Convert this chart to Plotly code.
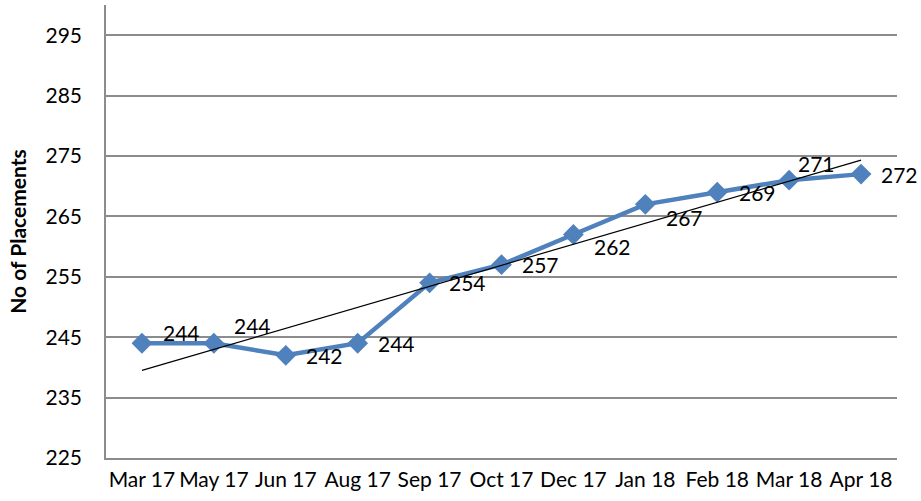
import numpy as np
import plotly.graph_objects as go

months = ["Mar 17", "May 17", "Jun 17", "Aug 17", "Sep 17", "Oct 17",
          "Dec 17", "Jan 18", "Feb 18", "Mar 18", "Apr 18"]
placements = [244, 244, 242, 244, 254, 257, 262, 267, 269, 271, 272]
y_ticks = [225, 235, 245, 255, 265, 275, 285, 295]

# label offsets in pixels (dx, dy up)
label_dx = [40, 39, 39, 39, 38, 39, 39, 39, 40, 27, 38]
label_dy = [11, 18, 0, 0, 0, 0, -12, -13, 0, 17, 0]

FONT = "Lato"
TICK_SIZE = 21
idx = np.arange(len(months))
slope, intercept = np.polyfit(idx, placements, 1)
trend = slope * idx + intercept

fig = go.Figure()
fig.add_trace(go.Scatter(
    x=idx, y=placements, mode="lines+markers",
    line=dict(color="#4F81BD", width=4.5),
    marker=dict(symbol="diamond", size=16, color="#4F81BD"),
    showlegend=False, hoverinfo="skip"))
fig.add_trace(go.Scatter(
    x=[idx[0], idx[-1]], y=[trend[0], trend[-1]], mode="lines",
    line=dict(color="black", width=1.2),
    showlegend=False, hoverinfo="skip"))

for i, v in enumerate(placements):
    fig.add_annotation(x=i, y=v, text=str(v), showarrow=False,
                       xshift=label_dx[i], yshift=label_dy[i],
                       font=dict(family=FONT, size=TICK_SIZE, color="black"))

fig.update_layout(
    width=921, height=501,
    margin=dict(l=106, r=24, t=5, b=43, autoexpand=False),
    paper_bgcolor="white", plot_bgcolor="white",
    font=dict(family=FONT, color="black"),
)
fig.update_xaxes(
    range=[-0.5, len(months) - 0.5],
    tickmode="array", tickvals=list(idx), ticktext=months,
    tickfont=dict(family=FONT, size=TICK_SIZE, color="black"),
    showgrid=False, zeroline=False,
    showline=True, linecolor="#8C8C8C", linewidth=1.5,
    ticks="", ticklabelstandoff=2,
)
fig.update_yaxes(
    range=[225, 300],
    tickmode="array", tickvals=y_ticks,
    tickfont=dict(family=FONT, size=TICK_SIZE, color="black"),
    showgrid=True, gridcolor="#8C8C8C", gridwidth=1.5,
    zeroline=False,
    showline=True, linecolor="#8C8C8C", linewidth=1.5,
    ticks="", ticklabelstandoff=18,
    title=dict(text="<b>No of Placements</b>", font=dict(family=FONT, size=21, color="black"),
               standoff=13),
)

fig.write_html("out.html", config={"responsive": False, "displayModeBar": False},
               post_script="document.body.style.margin='0';document.body.style.overflow='hidden';")
